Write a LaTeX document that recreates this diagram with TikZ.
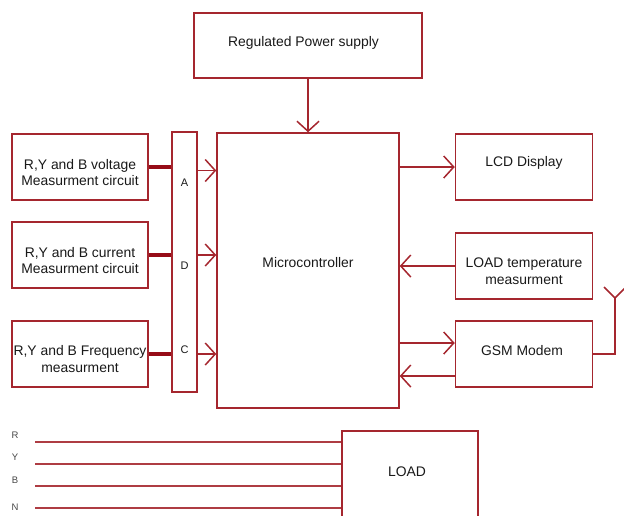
\documentclass[tikz,border=0pt]{standalone}
\usepackage{fontspec}
\setmainfont{Liberation Sans}
\usetikzlibrary{arrows.meta}
\definecolor{bcol}{RGB}{165,38,46}
\definecolor{tcol}{RGB}{150,12,24}
\definecolor{txt}{RGB}{25,25,25}
\tikzset{
  box/.style={draw=bcol, line width=1.5pt, rectangle, inner sep=0pt},
  lbl/.style={font=\fontsize{13.9}{16.5}\selectfont, text=txt, align=center, inner sep=0pt},
  small/.style={font=\fontsize{11}{13}\selectfont, text=txt, inner sep=0pt},
  tiny/.style={font=\fontsize{9.5}{11}\selectfont, text=txt!80, inner sep=0pt},
  conn/.style={draw=bcol, line width=1.5pt},
  thick conn/.style={draw=tcol, line width=3.5pt},
  arr/.style={conn, -{Straight Barb[length=10pt,width=22pt,line width=1.5pt]}},
  wire/.style={draw=bcol!90, line width=1.8pt},
}
\begin{document}
\begin{tikzpicture}[x=1pt,y=-1pt]
\useasboundingbox (0,0) rectangle (624,515);
\clip (0,0) rectangle (624,515);
% boxes
\node[box, minimum width=228pt, minimum height=65pt] (ps) at (308,45.5) {};
\node[lbl] (pst) at (303.5,43) {Regulated Power supply};
\node[box, minimum width=182pt, minimum height=275pt] (mc) at (308,270.5) {};
\node[lbl] (mct) at (308,263) {Microcontroller};
\node[box, minimum width=25pt, minimum height=260pt] (adc) at (184.5,262) {};
\node[small] (la) at (184.5,183) {A};
\node[small] (ld) at (184.5,266) {D};
\node[small] (lc) at (184.5,350) {C};
\node[box, minimum width=136pt, minimum height=66pt] (v) at (80,167) {};
\node[lbl] (vt) at (80,172.5) {R,Y and B voltage\\Measurment circuit};
\node[box, minimum width=136pt, minimum height=66pt] (i) at (80,255) {};
\node[lbl] (it) at (80,260.5) {R,Y and B current\\Measurment circuit};
\node[box, minimum width=136pt, minimum height=66pt] (f) at (80,354) {};
\node[lbl] (ft) at (80,359) {R,Y and B Frequency\\measurment};
\node[box, minimum width=137pt, minimum height=66pt] (lcd) at (524,167) {};
\node[lbl] (lcdt) at (524,163) {LCD Display};
\node[box, minimum width=137pt, minimum height=66pt] (tmp) at (524,266) {};
\node[lbl] (tmpt) at (524,271) {LOAD temperature\\measurment};
\node[box, minimum width=137pt, minimum height=66pt] (gsm) at (524,354) {};
\node[lbl] (gsmt) at (522,351) {GSM Modem};
\node[box, minimum width=136pt, minimum height=110pt] (load) at (410,486) {};
\node[lbl] (loadt) at (407,472) {LOAD};
% power
\draw[arr] (ps.south) -- (mc.north);
% left side
\draw[thick conn] (v.east) -- (v.east -| adc.west);
\draw[thick conn] (i.east) -- (i.east -| adc.west);
\draw[thick conn] (f.east) -- (f.east -| adc.west);
\draw[arr] ([yshift=-3.5pt]v.east -| adc.east) -- ([yshift=-3.5pt]v.east -| mc.west);
\draw[arr] (i.east -| adc.east) -- (i.east -| mc.west);
\draw[arr] (f.east -| adc.east) -- (f.east -| mc.west);
% right side
\draw[arr] (lcd.west -| mc.east) -- (lcd.west);
\draw[arr] (tmp.west) -- (tmp.west -| mc.east);
\draw[arr] ([yshift=11pt]gsm.west -| mc.east) -- ([yshift=11pt]gsm.west);
\draw[arr] ([yshift=-22pt]gsm.west) -- ([yshift=-22pt]gsm.west -| mc.east);
% antenna
\coordinate (ab) at (615,354);
\coordinate (at) at (615,298);
\coordinate (al) at (604,287);
\coordinate (ar) at (626,287);
\draw[conn] (gsm.east) -- (ab) -- (at);
\draw[conn] (al) -- (at) -- (ar);
% phase wires
\coordinate (wr) at (35,442);
\coordinate (wy) at (35,464);
\coordinate (wb) at (35,486);
\coordinate (wn) at (35,508);
\draw[wire] (wr) -- (wr -| load.west);
\draw[wire] (wy) -- (wy -| load.west);
\draw[wire] (wb) -- (wb -| load.west);
\draw[wire] (wn) -- (wn -| load.west);
\node[tiny] (r) at (15,435.5) {R};
\node[tiny] (y) at (15,457.5) {Y};
\node[tiny] (b) at (15,480) {B};
\node[tiny] (n) at (15,507) {N};
\end{tikzpicture}
\end{document}
